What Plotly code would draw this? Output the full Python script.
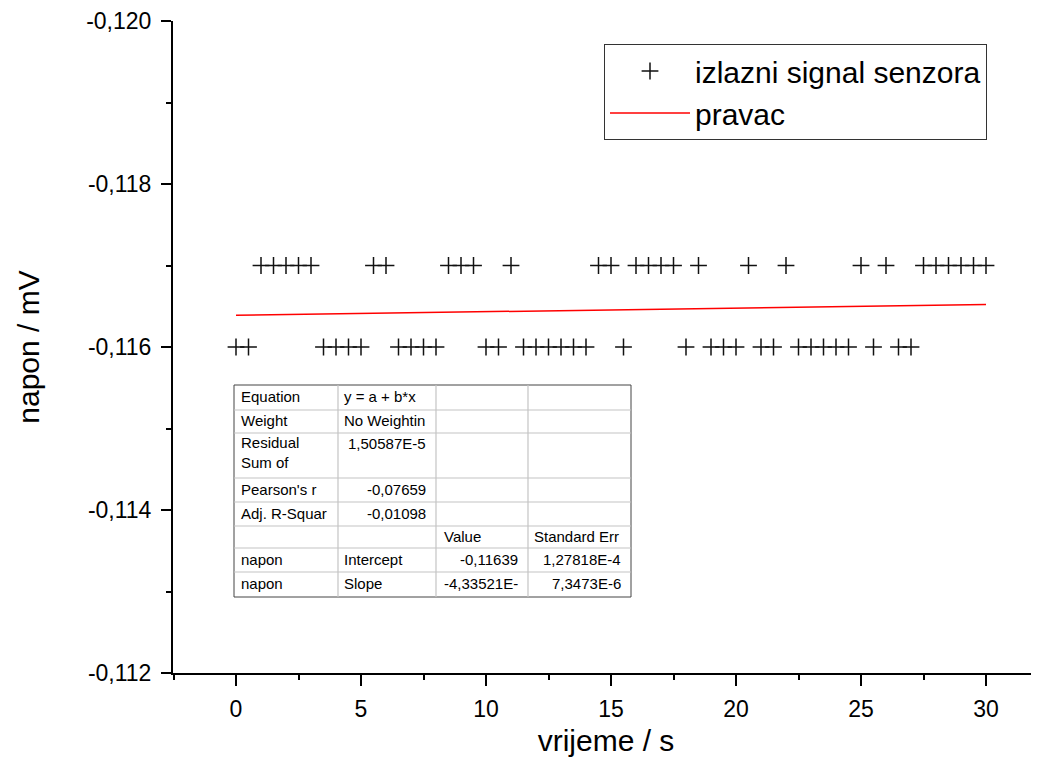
import plotly.graph_objects as go

# ---------------- data ----------------
# time values (s) at which the sensor sits at -0.117 mV
t_high = [1.0, 1.5, 2.0, 2.5, 3.0, 5.5, 6.0, 8.5, 9.0, 9.5, 11.0, 14.5, 15.0,
          16.0, 16.5, 17.0, 17.5, 18.5, 20.5, 22.0, 25.0, 26.0,
          27.5, 28.0, 28.5, 29.0, 29.5, 30.0]
# time values (s) at which the sensor sits at -0.116 mV
t_low = [0.0, 0.5, 3.5, 4.0, 4.5, 5.0, 6.5, 7.0, 7.5, 8.0, 10.0, 10.5,
         11.5, 12.0, 12.5, 13.0, 13.5, 14.0, 15.5, 18.0, 19.0, 19.5, 20.0,
         21.0, 21.5, 22.5, 23.0, 23.5, 24.0, 24.5, 25.5, 26.5, 27.0]
level_high = -0.117
level_low = -0.116

# merge into one sorted series
pairs = sorted([(t, level_high) for t in t_high] + [(t, level_low) for t in t_low])
signal_t = [p[0] for p in pairs]
signal_v = [p[1] for p in pairs]

# linear fit results (from the fit table)
fit_intercept = -0.11639
fit_slope = -4.33521e-6
fit_t = [0.0, 30.0]
fit_v = [fit_intercept + fit_slope * t for t in fit_t]

x_tickvals = [0, 5, 10, 15, 20, 25, 30]
x_ticktext = ["0", "5", "10", "15", "20", "25", "30"]
y_tickvals = [-0.120, -0.118, -0.116, -0.114, -0.112]
y_ticktext = ["-0,120", "-0,118", "-0,116", "-0,114", "-0,112"]

table_rows = [
    ["Equation", "y = a + b*x", "", ""],
    ["Weight", "No Weightin", "", ""],
    ["Residual<br>Sum of", "1,50587E-5", "", ""],
    ["Pearson's r", "-0,07659", "", ""],
    ["Adj. R-Squar", "-0,01098", "", ""],
    ["", "", "Value", "Standard Err"],
    ["napon", "Intercept", "-0,11639", "1,27818E-4"],
    ["napon", "Slope", "-4,33521E-", "7,3473E-6"],
]

# ---------------- layout geometry ----------------
# the page body adds an 8px offset; figure is sized to fit the window
OFF = 8
W, H = 1039 - OFF, 773 - 2 * OFF
# plot area in screen pixels
L, R, T, B = 173, 1039, 21, 673
FONT = "Arial, Liberation Sans, sans-serif"


def px(x):
    return (x - L) / (R - L)


def py(y):
    return (B - y) / (B - T)


fig = go.Figure()
fig.add_trace(go.Scatter(
    x=signal_t, y=signal_v, mode="markers", name="izlazni signal senzora",
    marker=dict(symbol="cross-thin", size=12, color="#000000",
                line=dict(width=1.5, color="#111111")),
))
fig.add_trace(go.Scatter(
    x=fit_t, y=fit_v, mode="lines", name="pravac",
    line=dict(color="#ff0000", width=1.5),
))

# ---------------- fit table ----------------
col_x = [234, 338, 436, 528, 631]
row_y = [385, 410, 433, 478, 502, 526, 548, 572, 597]
shapes = []
shapes.append(dict(type="rect", xref="paper", yref="paper",
                   x0=px(col_x[0]), x1=px(col_x[-1]), y0=py(row_y[0]), y1=py(row_y[-1]),
                   fillcolor="white", line=dict(color="#444444", width=1), layer="above"))
for cx in col_x[1:-1]:
    shapes.append(dict(type="line", xref="paper", yref="paper",
                       x0=px(cx), x1=px(cx), y0=py(row_y[0]), y1=py(row_y[-1]),
                       line=dict(color="#c4c4c4", width=1.2), layer="above"))
for ry in row_y[1:-1]:
    shapes.append(dict(type="line", xref="paper", yref="paper",
                       x0=px(col_x[0]), x1=px(col_x[-1]), y0=py(ry), y1=py(ry),
                       line=dict(color="#c4c4c4", width=1.2), layer="above"))

annotations = []
left_pad = [5, 4, 6, 4]
right_pad = 8


def is_number(s):
    return s[:1] in "-0123456789"


for r, row in enumerate(table_rows):
    y0, y1 = row_y[r], row_y[r + 1]
    for c, txt in enumerate(row):
        if not txt:
            continue
        numeric = is_number(txt)
        if r == 2 and c == 0:
            ymid = y0 + 20
        elif r == 2:
            ymid = y0 + 10
        else:
            ymid = (y0 + y1) / 2 - 1
        if numeric:
            annotations.append(dict(xref="paper", yref="paper", x=px(col_x[c + 1] - right_pad),
                                    y=py(ymid), text=txt, showarrow=False, xanchor="right",
                                    yanchor="middle", font=dict(family=FONT, size=15, color="#000")))
        else:
            annotations.append(dict(xref="paper", yref="paper", x=px(col_x[c] + left_pad[c]),
                                    y=py(ymid), text=txt, showarrow=False, xanchor="left",
                                    yanchor="middle", align="left",
                                    font=dict(family=FONT, size=15, color="#000")))

fig.update_layout(
    width=W, height=H,
    margin=dict(l=L - OFF, r=(1039 - R), t=T - OFF, b=H - (B - OFF), autoexpand=False),
    paper_bgcolor="white", plot_bgcolor="white",
    font=dict(family=FONT, color="#000000"),
    showlegend=True,
    legend=dict(x=px(604), y=py(44), xanchor="left", yanchor="top",
                bgcolor="white", bordercolor="#333333", borderwidth=1,
                font=dict(family=FONT, size=30, color="#000000"),
                itemwidth=80, tracegroupgap=0),
    xaxis=dict(range=[-2.52, 32.12], showgrid=False, zeroline=False,
               showline=True, linecolor="#000000", linewidth=2,
               tickmode="array", tickvals=x_tickvals, ticktext=x_ticktext,
               ticks="outside", ticklen=11, tickwidth=2, tickcolor="#000000",
               ticklabelstandoff=3,
               tickfont=dict(family=FONT, size=23, color="#000000"),
               minor=dict(dtick=2.5, tick0=0, ticks="outside", ticklen=5, tickwidth=2,
                          tickcolor="#000000", showgrid=False),
               title=dict(text="vrijeme / s", font=dict(family=FONT, size=30), standoff=9)),
    yaxis=dict(range=[-0.112, -0.120], showgrid=False, zeroline=False,
               showline=True, linecolor="#000000", linewidth=2,
               tickmode="array", tickvals=y_tickvals, ticktext=y_ticktext,
               ticks="outside", ticklen=10, tickwidth=2, tickcolor="#000000",
               ticklabelstandoff=5,
               tickfont=dict(family=FONT, size=23, color="#000000"),
               minor=dict(dtick=0.001, tick0=-0.120, ticks="outside", ticklen=5, tickwidth=2,
                          tickcolor="#000000", showgrid=False),
               title=dict(text="napon / mV", font=dict(family=FONT, size=30), standoff=38)),
    shapes=shapes,
    annotations=annotations,
)

fig.write_html("out.html")
